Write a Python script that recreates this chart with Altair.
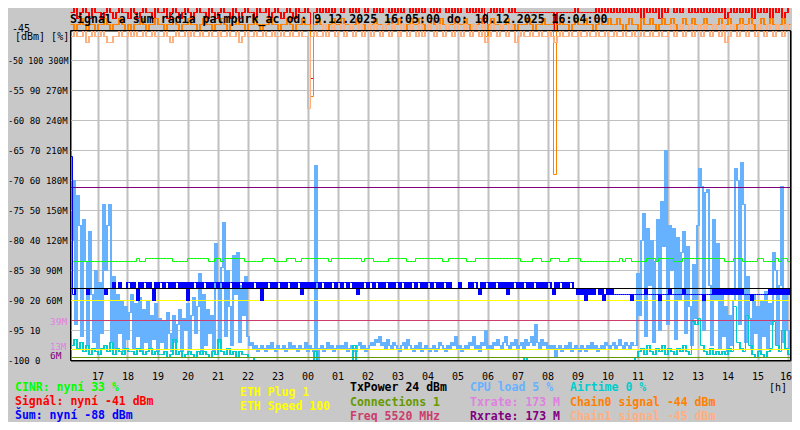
import json
import altair as alt
import pandas as pd

# ------------------------------------------------------------------
# Data (time runs 9.12. 16:05 -> 10.12. 16:04)
# ------------------------------------------------------------------
# CPU load [%], 4-minute samples (15 per row = 1 hour)
CPU_LOAD_PCT = [
    40, 60, 12, 55, 45, 8, 47, 33, 5, 43, 22, 6, 30, 4, 26,
    9, 52, 30, 45, 52, 6, 28, 4, 22, 9, 20, 3, 18, 7, 16,
    22, 4, 19, 8, 21, 3, 17, 6, 20, 4, 15, 7, 19, 3, 14,
    6, 13, 4, 16, 9, 3, 15, 6, 12, 17, 3, 14, 10, 19, 4,
    15, 21, 9, 18, 29, 3, 22, 5, 17, 9, 15, 3, 39, 24, 6,
    31, 46, 8, 30, 18, 5, 35, 22, 36, 6, 25, 15, 28, 8, 5,
    6, 4, 5, 3, 4, 5, 4, 3, 5, 4, 6, 4, 3, 5, 4,
    4, 5, 3, 4, 6, 4, 5, 4, 3, 5, 4, 4, 6, 3, 5,
    4, 3, 65, 0, 4, 5, 3, 4, 6, 4, 5, 3, 4, 5, 4,
    5, 4, 6, 3, 4, 5, 4, 3, 5, 6, 4, 5, 3, 4, 5,
    6, 5, 7, 6, 8, 5, 6, 4, 7, 5, 4, 6, 5, 4, 3,
    5, 6, 4, 7, 5, 4, 3, 5, 4, 6, 3, 4, 5, 4, 3,
    4, 5, 3, 4, 6, 5, 4, 3, 5, 4, 6, 5, 8, 4, 5,
    3, 4, 5, 4, 6, 5, 8, 4, 5, 3, 6, 5, 10, 4, 5,
    4, 6, 5, 7, 5, 4, 6, 8, 5, 4, 6, 5, 7, 4, 5,
    6, 4, 7, 5, 6, 8, 5, 12, 6, 4, 7, 5, 6, 4, 5,
    4, 5, 1, 4, 5, 3, 4, 5, 4, 6, 3, 4, 5, 4, 3,
    5, 4, 3, 5, 4, 6, 4, 5, 3, 4, 5, 4, 6, 5, 4,
    5, 6, 4, 5, 7, 5, 4, 6, 5, 4, 6, 5, 5, 29, 15,
    40, 49, 8, 44, 25, 40, 6, 33, 47, 10, 53, 38, 70, 12, 45,
    30, 44, 7, 41, 20, 36, 43, 9, 38, 18, 5, 32, 14, 45, 64,
    58, 10, 56, 57, 25, 5, 47, 20, 39, 4, 22, 8, 18, 3, 15,
    5, 20, 64, 60, 12, 66, 52, 6, 28, 14, 4, 22, 9, 18, 3,
    20, 8, 23, 4, 19, 12, 36, 30, 5, 25, 58, 6, 22, 10, 4,
]

# Noise (Šum) [dBm], 4-minute samples
NOISE_DBM = [
    -66, -89, -88, -88, -88, -88, -88, -88, -89, -88, -88, -88, -88, -88, -88,
    -88, -88, -89, -88, -88, -88, -87, -88, -88, -87, -88, -88, -88, -87, -87,
    -88, -87, -88, -90, -87, -88, -87, -87, -88, -87, -88, -90, -87, -88, -87,
    -87, -88, -87, -87, -88, -87, -88, -87, -87, -88, -87, -88, -87, -90, -87,
    -88, -87, -87, -88, -87, -88, -87, -87, -88, -87, -88, -87, -87, -88, -87,
    -87, -88, -87, -88, -87, -87, -88, -87, -88, -87, -87, -88, -87, -88, -87,
    -88, -87, -87, -88, -87, -90, -87, -88, -87, -87, -88, -87, -88, -87, -87,
    -88, -87, -88, -87, -87, -88, -87, -88, -87, -87, -89, -87, -88, -87, -88,
    -87, -88, -87, -87, -88, -87, -87, -88, -87, -88, -87, -87, -88, -87, -87,
    -88, -87, -87, -88, -87, -87, -88, -87, -89, -87, -88, -87, -87, -88, -87,
    -87, -88, -87, -87, -88, -87, -88, -87, -87, -88, -87, -88, -87, -87, -88,
    -87, -87, -88, -87, -88, -87, -87, -88, -87, -87, -88, -87, -88, -87, -87,
    -88, -87, -87, -88, -87, -88, -87, -87, -88, -87, -88, -88, -88, -88, -87,
    -88, -88, -88, -88, -87, -88, -87, -87, -88, -89, -87, -88, -87, -87, -88,
    -87, -88, -87, -87, -88, -87, -88, -87, -89, -87, -88, -87, -87, -88, -87,
    -88, -87, -87, -88, -87, -88, -87, -87, -88, -87, -88, -87, -88, -87, -87,
    -88, -89, -87, -88, -87, -87, -88, -87, -88, -87, -87, -88, -88, -89, -88,
    -89, -88, -90, -88, -89, -88, -89, -88, -88, -89, -88, -90, -89, -88, -89,
    -88, -89, -89, -89, -89, -89, -89, -89, -89, -89, -90, -89, -89, -89, -89,
    -89, -89, -88, -89, -89, -89, -89, -89, -89, -90, -89, -89, -89, -89, -88,
    -89, -89, -89, -89, -89, -89, -88, -89, -89, -89, -89, -89, -89, -89, -89,
    -89, -90, -89, -89, -89, -89, -88, -89, -88, -89, -88, -89, -88, -89, -88,
    -89, -88, -89, -88, -89, -88, -89, -89, -89, -89, -90, -89, -89, -89, -89,
    -89, -89, -89, -89, -88, -89, -88, -89, -88, -89, -88, -89, -88, -89, -88,
]

# Airtime [%], 6-minute samples (10 per row = 1 hour)
AIRTIME_PCT = [
    5, 7, 4, 6, 3, 5, 2, 4, 3, 2,
    4, 5, 3, 6, 2, 4, 3, 2, 4, 3,
    3, 2, 4, 3, 2, 3, 4, 2, 3, 2,
    2, 3, 1, 2, 7, 2, 3, 1, 2, 3,
    2, 1, 3, 2, 3, 2, 1, 3, 2, 7,
    3, 2, 4, 2, 3, 1, 3, 2, 2, 1,
    1, 0, 0, 0, 0, 0, 0, 0, 0, 0,
    0, 0, 0, 0, 0, 0, 0, 0, 0, 0,
    0, 3, 0, 0, 0, 0, 0, 0, 0, 0,
    0, 0, 0, 0, 5, 0, 0, 0, 0, 0,
    0, 0, 0, 0, 0, 0, 0, 0, 0, 0,
    0, 0, 0, 0, 0, 0, 0, 0, 0, 0,
    0, 0, 0, 0, 0, 0, 0, 0, 0, 0,
    0, 0, 0, 0, 0, 0, 0, 0, 0, 0,
    0, 0, 0, 0, 0, 0, 0, 0, 0, 0,
    0, 1, 0, 0, 0, 0, 0, 0, 0, 0,
    0, 0, 0, 0, 0, 0, 0, 0, 0, 0,
    0, 0, 0, 0, 0, 0, 0, 0, 0, 0,
    0, 0, 0, 0, 0, 0, 0, 0, 1, 3,
    4, 2, 5, 3, 2, 4, 3, 5, 2, 4,
    3, 2, 4, 3, 5, 3, 2, 13, 12, 14,
    5, 3, 2, 4, 2, 3, 2, 3, 2, 4,
    3, 18, 6, 4, 3, 15, 5, 2, 1, 3,
    2, 1, 3, 4, 13, 5, 3, 10, 4, 2,
]

# Signal [dBm], 6-minute samples
SIGNAL_DBM = [
    -42, -41, -43, -42, -41, -42, -43, -41, -42, -42,
    -43, -42, -41, -42, -43, -42, -41, -42, -42, -43,
    -41, -42, -43, -42, -41, -42, -42, -43, -41, -42,
    -42, -41, -43, -42, -41, -42, -43, -42, -41, -42,
    -43, -42, -41, -42, -42, -43, -41, -42, -43, -42,
    -41, -42, -42, -43, -41, -42, -43, -42, -41, -42,
    -42, -43, -41, -42, -42, -41, -43, -42, -41, -42,
    -43, -42, -41, -42, -43, -41, -42, -42, -41, -42,
    -53, -42, -41, -42, -41, -42, -41, -42, -41, -41,
    -42, -41, -41, -42, -41, -42, -41, -41, -42, -41,
    -41, -42, -41, -42, -41, -41, -42, -41, -42, -41,
    -42, -41, -41, -42, -41, -42, -41, -42, -41, -41,
    -42, -41, -42, -41, -41, -42, -41, -42, -41, -42,
    -41, -41, -42, -41, -42, -41, -42, -41, -47, -42,
    -41, -42, -41, -42, -41, -41, -42, -41, -42, -42,
    -42, -42, -42, -42, -42, -42, -42, -42, -42, -42,
    -42, -45, -42, -42, -42, -42, -42, -42, -41, -42,
    -42, -42, -42, -42, -42, -41, -42, -41, -42, -41,
    -42, -41, -42, -41, -42, -41, -42, -41, -42, -41,
    -43, -41, -42, -41, -42, -41, -43, -41, -42, -41,
    -41, -42, -41, -42, -41, -41, -42, -41, -42, -41,
    -42, -41, -42, -41, -42, -41, -42, -41, -43, -42,
    -41, -42, -41, -42, -41, -42, -41, -43, -41, -42,
    -41, -42, -40, -43, -41, -42, -41, -43, -42, -41,
]

# Chain0 signal [dBm], 6-minute samples
CHAIN0_DBM = [
    -44, -45, -44, -43, -44, -45, -44, -44, -45, -44,
    -44, -43, -44, -45, -44, -44, -43, -44, -45, -44,
    -45, -44, -44, -43, -44, -45, -44, -44, -43, -44,
    -44, -45, -44, -44, -43, -44, -45, -44, -44, -43,
    -44, -44, -45, -44, -43, -44, -44, -45, -44, -44,
    -43, -44, -45, -44, -44, -43, -44, -44, -45, -44,
    -44, -43, -44, -45, -44, -44, -43, -44, -44, -45,
    -44, -44, -43, -44, -45, -44, -44, -43, -44, -44,
    -56, -44, -43, -44, -44, -45, -44, -43, -44, -44,
    -43, -44, -44, -45, -44, -43, -44, -44, -45, -44,
    -44, -43, -44, -44, -45, -44, -43, -44, -44, -43,
    -44, -45, -44, -43, -44, -44, -43, -44, -45, -44,
    -43, -44, -44, -43, -44, -45, -44, -44, -43, -44,
    -44, -43, -44, -45, -44, -44, -43, -44, -46, -44,
    -43, -44, -44, -45, -44, -43, -44, -44, -45, -44,
    -44, -44, -43, -44, -45, -44, -44, -43, -44, -44,
    -44, -69, -44, -43, -44, -44, -45, -44, -43, -44,
    -44, -43, -44, -44, -45, -44, -43, -44, -44, -43,
    -44, -44, -43, -44, -45, -44, -43, -44, -44, -45,
    -43, -44, -44, -43, -44, -45, -44, -43, -44, -44,
    -43, -44, -45, -44, -43, -44, -44, -43, -44, -45,
    -44, -43, -44, -44, -45, -44, -43, -44, -44, -43,
    -44, -45, -44, -43, -44, -44, -43, -44, -45, -44,
    -43, -44, -44, -43, -44, -45, -44, -43, -44, -44,
]

# Chain1 signal [dBm], 6-minute samples
CHAIN1_DBM = [
    -46, -45, -46, -46, -45, -47, -46, -45, -46, -46,
    -45, -46, -47, -47, -46, -46, -45, -46, -46, -45,
    -46, -45, -46, -46, -45, -46, -46, -45, -46, -46,
    -46, -45, -46, -47, -46, -45, -46, -46, -45, -46,
    -45, -46, -46, -45, -46, -46, -45, -46, -46, -45,
    -46, -46, -45, -46, -46, -45, -47, -46, -45, -46,
    -46, -45, -46, -46, -45, -46, -46, -45, -46, -46,
    -45, -46, -46, -45, -46, -46, -45, -46, -46, -58,
    -46, -45, -46, -46, -44, -46, -45, -44, -46, -45,
    -44, -46, -45, -44, -46, -45, -44, -46, -45, -44,
    -46, -44, -45, -46, -44, -45, -46, -44, -45, -46,
    -44, -45, -46, -44, -45, -46, -44, -46, -45, -44,
    -45, -46, -44, -45, -46, -44, -45, -46, -44, -45,
    -46, -44, -45, -46, -44, -45, -46, -44, -47, -46,
    -44, -45, -46, -44, -45, -46, -44, -45, -47, -46,
    -45, -46, -46, -45, -46, -46, -45, -46, -46, -45,
    -46, -47, -46, -45, -46, -46, -45, -46, -46, -45,
    -46, -46, -45, -46, -46, -45, -46, -46, -45, -46,
    -46, -45, -46, -46, -45, -46, -46, -45, -46, -46,
    -45, -46, -46, -45, -46, -46, -45, -46, -46, -45,
    -44, -46, -45, -44, -46, -45, -44, -46, -45, -44,
    -46, -44, -45, -46, -44, -45, -46, -44, -47, -46,
    -44, -45, -46, -44, -45, -46, -44, -45, -46, -44,
    -45, -46, -44, -45, -46, -44, -45, -46, -44, -45,
]

# CINR [%], 6-minute samples
CINR_PCT = [
    33, 33, 33, 33, 33, 33, 33, 33, 33, 33,
    33, 33, 33, 33, 33, 33, 33, 33, 33, 33,
    33, 33, 34, 33, 33, 34, 34, 34, 34, 34,
    34, 34, 34, 34, 33, 33, 33, 33, 33, 34,
    34, 34, 34, 34, 34, 34, 33, 33, 34, 34,
    33, 34, 34, 34, 34, 34, 34, 34, 33, 33,
    33, 33, 33, 33, 34, 34, 34, 34, 33, 33,
    33, 33, 34, 34, 34, 33, 33, 34, 34, 34,
    34, 34, 34, 34, 34, 34, 33, 34, 34, 34,
    34, 34, 34, 34, 34, 34, 34, 33, 34, 34,
    34, 33, 33, 33, 33, 33, 34, 34, 34, 34,
    34, 34, 33, 33, 33, 34, 34, 34, 34, 34,
    34, 34, 34, 34, 33, 33, 34, 34, 34, 34,
    34, 34, 33, 33, 33, 34, 34, 34, 34, 34,
    34, 34, 34, 34, 34, 34, 34, 34, 34, 34,
    33, 33, 33, 33, 34, 34, 34, 33, 33, 33,
    34, 34, 34, 33, 33, 33, 34, 34, 34, 34,
    33, 33, 33, 33, 33, 33, 33, 33, 33, 33,
    33, 33, 33, 34, 33, 34, 34, 33, 33, 33,
    33, 33, 34, 34, 34, 33, 34, 34, 34, 34,
    34, 33, 33, 33, 34, 34, 34, 34, 34, 34,
    34, 34, 34, 34, 34, 34, 34, 34, 33, 33,
    33, 34, 34, 34, 33, 33, 33, 33, 33, 34,
    34, 33, 33, 33, 33, 34, 33, 34, 34, 33,
]

# constant levels, expressed on the right-hand "M" scale of the axis
LEVEL_NAMES = ["Txrate", "Rxrate", "ETH Speed", "ETH Plug", "Connections", "Freq"]
LEVEL_M = [173, 173, 60, 11, 3, 40]
TXPOWER_PCT = 24

HOUR_LABELS = ["17", "18", "19", "20", "21", "22", "23", "00", "01", "02", "03", "04",
               "05", "06", "07", "08", "09", "10", "11", "12", "13", "14", "15", "16"]
Y_TICKS = [-50, -55, -60, -65, -70, -75, -80, -85, -90, -95, -100]
Y_LABELS = ["-50 100 300M", "-55 90 270M", "-60 80 240M", "-65 70 210M", "-70 60 180M",
            "-75 50 150M", "-80 40 120M", "-85 30 90M", "-90 20 60M", "-95 10", "-100 0"]

TITLE = "Signál a šum rádia palmpurk_ac od: 9.12.2025 16:05:00 do: 10.12.2025 16:04:00"

# ------------------------------------------------------------------
# Styling
# ------------------------------------------------------------------
MONO = "DejaVu Sans Mono"
BG = "#c8c8c8"
GRID = "#c0c0c0"
C_CINR = "#00ff00"
C_SIGNAL = "#ff0000"
C_NOISE = "#0000ff"
C_ETH = "#ffff00"
C_TXPOWER = "#000000"
C_CONN = "#669900"
C_FREQ = "#cc3d6e"
C_CPU = "#66b2ff"
C_TX = "#e080e0"
C_RX = "#800080"
C_AIR = "#00cccc"
C_CH0 = "#ff8000"
C_CH1 = "#ffb080"
LEVEL_COLORS = [C_TX, C_RX, C_ETH, C_ETH, C_CONN, C_FREQ]

W, H = 720, 330
OX, OY = 70.5, 30.5          # page position of the plot origin
SPAN = 1440                  # minutes shown
HALF_PX_MIN = 1.0            # half a pixel, in minutes
HALF_PX_DB = 1.0 / 12        # half a pixel, in dBm

xs = alt.Scale(domain=[0, SPAN], nice=False, zero=False)
ys = alt.Scale(domain=[-100, -45], nice=False, zero=False)

x_axis = alt.Axis(
    values=[55 + 60 * k for k in range(len(HOUR_LABELS))],
    labelExpr=json.dumps(HOUR_LABELS) + "[round((datum.value - 55) / 60)]",
    grid=True, gridColor=GRID, gridWidth=2, gridOpacity=1,
    ticks=False, domain=False, translate=0,
    labelFont=MONO, labelFontSize=10, labelColor="black",
    labelPadding=19.5, labelBaseline="alphabetic",
    labelAlign={"condition": {"test": "datum.value > 1400", "value": "right"}, "value": "center"},
    labelOffset={"condition": {"test": "datum.value > 1400", "value": 4}, "value": 0},
    labelFlush=False, labelOverlap=False, title=None,
)
y_axis = alt.Axis(
    values=Y_TICKS,
    labelExpr=json.dumps(Y_LABELS) + "[round((-50 - datum.value) / 5)]",
    grid=True, gridColor=GRID, gridWidth=1, gridOpacity=1,
    ticks=False, domain=False, translate=0,
    labelFont=MONO,
    labelFontSize={"condition": {"test": "datum.value == -50", "value": 8.4}, "value": 9},
    labelColor="black", labelAlign="left", labelPadding=62.5,
    labelBaseline="middle", labelOverlap=False, title=None,
)


def X(field):
    return alt.X(field, scale=xs, axis=x_axis, title=None)


def Y(field):
    return alt.Y(field, scale=ys, axis=y_axis, title=None)


def to_dbm(expr, unit):
    if unit == "pct":
        return "-100 + (" + expr + ") / 2"
    return expr


def series(values, color, unit, fill_jump=None):
    """Step line, plus filled transitions like the 1-px sampled original."""
    n = len(values)
    st = SPAN / n
    line_df = pd.DataFrame({"t": [i * st for i in range(n + 1)],
                            "v": list(values) + [values[-1]]})
    line = (alt.Chart(line_df)
            .transform_calculate(y=to_dbm("datum.v", unit))
            .mark_line(interpolate="step-after", color=color, strokeWidth=1)
            .encode(x=X("t:Q"), y=Y("y:Q")))
    if fill_jump is None:
        return [line]
    prev = [values[0]] + list(values[:-1])
    tr = pd.DataFrame({"t": [i * st for i in range(n)], "a": prev, "b": list(values)})
    fill = (alt.Chart(tr)
            .transform_filter(f"datum.a != datum.b && abs(datum.a - datum.b) <= {fill_jump}")
            .transform_calculate(
                t1=f"datum.t - {HALF_PX_MIN}",
                t2=f"datum.t + {min(st, 4) - HALF_PX_MIN}",
                y1=f"max({to_dbm('datum.a', unit)}, {to_dbm('datum.b', unit)}) + {HALF_PX_DB}",
                y2=f"min({to_dbm('datum.a', unit)}, {to_dbm('datum.b', unit)}) - {HALF_PX_DB}",
            )
            .mark_rect(color=color, strokeWidth=0)
            .encode(x=X("t1:Q"), x2="t2:Q", y=Y("y1:Q"), y2="y2:Q"))
    return [fill, line]


cpu = series(CPU_LOAD_PCT, C_CPU, "pct", fill_jump=1000)
airtime = series(AIRTIME_PCT, C_AIR, "pct", fill_jump=6)

levels = (alt.Chart(pd.DataFrame({"name": LEVEL_NAMES, "m": LEVEL_M, "c": LEVEL_COLORS}))
          .transform_calculate(y="-100 + datum.m / 6")
          .mark_rule(strokeWidth=1)
          .encode(y=Y("y:Q"), color=alt.Color("c:N", scale=None)))

cinr = series(CINR_PCT, C_CINR, "pct")
noise = series(NOISE_DBM, C_NOISE, "dbm", fill_jump=3)

txpower = (alt.Chart(pd.DataFrame({"p": [TXPOWER_PCT]}))
           .transform_calculate(y="-100 + datum.p / 2")
           .mark_rule(strokeWidth=1, color=C_TXPOWER)
           .encode(y=Y("y:Q")))

signal = series(SIGNAL_DBM, C_SIGNAL, "dbm", fill_jump=3)
chain0 = series(CHAIN0_DBM, C_CH0, "dbm", fill_jump=3)
chain1 = series(CHAIN1_DBM, C_CH1, "dbm", fill_jump=3)

one = pd.DataFrame({"k": [0]})
frame_base = alt.Chart(one).mark_rule(color="black", strokeWidth=1)
frame = [
    frame_base.encode(x=alt.value(0), x2=alt.value(W), y=alt.value(0)),
    frame_base.encode(x=alt.value(0), x2=alt.value(W), y=alt.value(H)),
    frame_base.encode(x=alt.value(0), y=alt.value(0), y2=alt.value(H)),
    frame_base.encode(x=alt.value(W), y=alt.value(0), y2=alt.value(H)),
]


def label(text, px, py, color="black", size=11.5, bold=True, align="left",
          baseline="alphabetic"):
    return (alt.Chart(pd.DataFrame({"s": [text]}))
            .mark_text(align=align, baseline=baseline, font=MONO, fontSize=size,
                       fontWeight="bold" if bold else "normal", color=color)
            .encode(text="s:N", x=alt.value(px - OX), y=alt.value(py - OY)))


texts = [
    label(TITLE, 70, 23, size=11.6),
    label("-45", 30, 29, size=10, bold=False, align="right", baseline="middle"),
    label("[dBm] [%]", 15, 39.5, size=10, bold=False),
    label("39M", 50, 321.5, color=C_TX, size=9.5, bold=False, baseline="middle"),
    label("13M", 50, 347, color=C_TX, size=9, bold=False, baseline="middle"),
    label("6M", 50, 356, color=C_RX, size=9.5, bold=False, baseline="middle"),
    label("[h]", 787, 391, size=10, bold=False, align="right"),
    label("CINR: nyní 33 %", 15, 391, C_CINR),
    label("Signál: nyní -41 dBm", 15, 405, C_SIGNAL),
    label("Šum: nyní -88 dBm", 15, 419, C_NOISE),
    label("ETH Plug 1", 240, 396, C_ETH),
    label("ETH Speed 100", 240, 410, C_ETH),
    label("TxPower 24 dBm", 350, 391, C_TXPOWER),
    label("Connections 1", 350, 406, C_CONN),
    label("Freq 5520 MHz", 350, 420, C_FREQ),
    label("CPU load 5 %", 470, 391, C_CPU),
    label("Txrate: 173 M", 470, 406, C_TX),
    label("Rxrate: 173 M", 470, 420, C_RX),
    label("Airtime 0 %", 570, 391, C_AIR),
    label("Chain0 signal -44 dBm", 570, 406, C_CH0),
    label("Chain1 signal -45 dBm", 570, 419.5, C_CH1),
]

chart = (
    alt.layer(*cpu, *airtime, levels, *cinr, *noise, txpower,
              *signal, *chain0, *chain1, *frame, *texts)
    .properties(
        width=W, height=H,
        padding={"left": 62.5, "top": 22.5, "right": 1.5, "bottom": 61.5},
        autosize=alt.AutoSizeParams(type="none"),
        background=BG,
    )
    .configure_view(fill="white", stroke="black", strokeWidth=1)
)

chart.save("out.html", embed_options={"renderer": "svg", "actions": False})
